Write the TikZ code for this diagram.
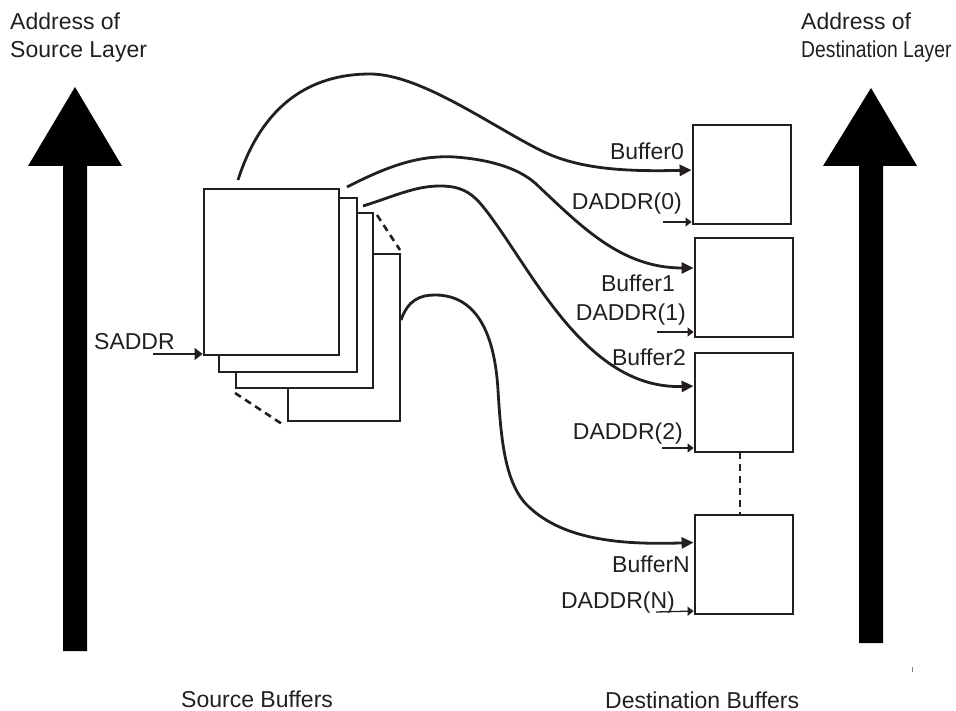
\documentclass[tikz,border=0pt]{standalone}
\usepackage{fontspec}
\setmainfont{Liberation Sans}
\usetikzlibrary{arrows.meta}
\definecolor{ink}{RGB}{35,31,32}
\begin{document}
\begin{tikzpicture}[x=1pt,y=-1pt,
  lbl/.style={font=\fontsize{23}{28}\selectfont, text=ink, inner sep=0pt},
  dbox/.style={draw=ink, line width=2.8pt, minimum width=98pt, minimum height=99pt, inner sep=0pt, outer sep=0pt, anchor=north west, fill=white},
  sbox/.style={draw=ink, line width=2.8pt, inner sep=0pt, outer sep=0pt, anchor=north west, fill=white},
  curve/.style={draw=ink, line width=2.8pt, shorten >=1.4pt, -{Triangle[length=12pt,width=11pt]}},
  thin/.style={draw=ink, line width=1.3pt, shorten >=1.4pt, -{Triangle[length=6pt,width=9pt]}},
  dashline/.style={draw=ink, line width=2.6pt, dash pattern=on 7pt off 5pt},
  bigarrow/.style={fill=black}]
\useasboundingbox (0,0) rectangle (956,711);

% big address arrows
\fill[bigarrow] (75,87) -- (122,166) -- (87,166) -- (87,651) -- (63,651) -- (63,166) -- (28,166) -- cycle;
\fill[bigarrow] (871,88) -- (917,166) -- (883,166) -- (883,643) -- (859,643) -- (859,166) -- (823,166) -- cycle;
\draw[gray, line width=0.8pt] (912,667) -- (912,672);

% titles (anchor base = baseline of last line)
\node[lbl, anchor=base west, align=left] (tsrc) at (10,58) {Address of\\Source Layer};
\node[lbl, anchor=base west, align=left] (tdst) at (801,58) {Address of\\\scalebox{0.84}[1]{Destination Layer}};

% source buffers (back to front)
\node[sbox, minimum width=112pt, minimum height=167pt] (src4) at (288,254) {};
\node[sbox, minimum width=137pt, minimum height=175pt] (src3) at (236,213) {};
\node[sbox, minimum width=138pt, minimum height=174pt] (src2) at (219,198) {};
\node[sbox, minimum width=135pt, minimum height=166pt] (src1) at (204,189) {};
\draw[dashline] ([shift={(4pt,-2pt)}]src3.north east) -- ([shift={(0pt,4pt)}]src4.north east);
\draw[dashline] ([shift={(-1pt,-5pt)}]src3.south west) -- ([shift={(-6pt,-3pt)}]src4.south west);

% destination buffers
\node[dbox] (box0) at (693,125) {};
\node[dbox] (box1) at (695,238) {};
\node[dbox] (box2) at (695,353) {};
\node[dbox] (boxN) at (695,515) {};
\draw[dashline] ([xshift=-4pt]box2.south) -- ([xshift=-4pt]boxN.north);

% curves
\coordinate (c0s) at (238,180);
\coordinate (c1s) at (347,187);
\coordinate (c2s) at (363,206);
\coordinate (cNs) at (401,320);
\draw[curve] (c0s) .. controls (262,105) and (310,74) .. (370,74)
  .. controls (420,74) and (490,125) .. (540,150)
  .. controls (575,168) and (620,172) .. ([yshift=4.5pt]box0.west);
\draw[curve] (c1s) .. controls (390,165) and (420,155) .. (455,157)
  .. controls (495,160) and (520,170) .. (535,183)
  .. controls (580,225) and (620,268) .. ([yshift=19.5pt]box1.west);
\draw[curve] (c2s) .. controls (395,196) and (415,186) .. (440,186)
  .. controls (460,186) and (470,192) .. (480,203)
  .. controls (528,260) and (582,390) .. ([yshift=16.5pt]box2.west);
\draw[curve] (cNs) .. controls (408,300) and (420,295) .. (435,295)
  .. controls (480,295) and (495,340) .. (498,390)
  .. controls (501,440) and (505,480) .. (525,503)
  .. controls (560,540) and (620,545) .. ([yshift=22pt]boxN.west);

% labels
\node[lbl, anchor=base east] (lb0) at (684,160) {Buffer0};
\node[lbl, anchor=base east] (ld0) at (682,210) {DADDR(0)};
\node[lbl, anchor=base east] (lb1) at (675,292) {Buffer1};
\node[lbl, anchor=base east] (ld1) at (686,321) {DADDR(1)};
\node[lbl, anchor=base east] (lb2) at (686,365) {Buffer2};
\node[lbl, anchor=base east] (ld2) at (683,439) {DADDR(2)};
\node[lbl, anchor=base east] (lbN) at (690,572) {BufferN};
\node[lbl, anchor=base east] (ldN) at (675,608) {DADDR(N)};
\node[lbl, anchor=base west] (lsa) at (94,349) {SADDR};

% address arrows
\coordinate (d0) at (663,222);
\coordinate (d1) at (657,332);
\coordinate (d2) at (662,448);
\coordinate (dN) at (656,612);
\coordinate (sa) at (153,354);
\draw[thin] (d0) -- ([yshift=2pt]box0.south west);
\draw[thin] (d1) -- ([yshift=5pt]box1.south west);
\draw[thin] (d2) -- ([yshift=4pt]box2.south west);
\draw[thin] (dN) -- ([yshift=3pt]boxN.south west);
\draw[draw=ink, line width=1.5pt, shorten >=1.4pt, -{Triangle[length=8pt,width=12pt]}] (sa) -- ([yshift=1pt]src1.south west);

% bottom captions
\node[lbl, anchor=base west] (csrc) at (181,707) {Source Buffers};
\node[lbl, anchor=base west] (cdst) at (605,708) {Destination Buffers};
\end{tikzpicture}
\end{document}
